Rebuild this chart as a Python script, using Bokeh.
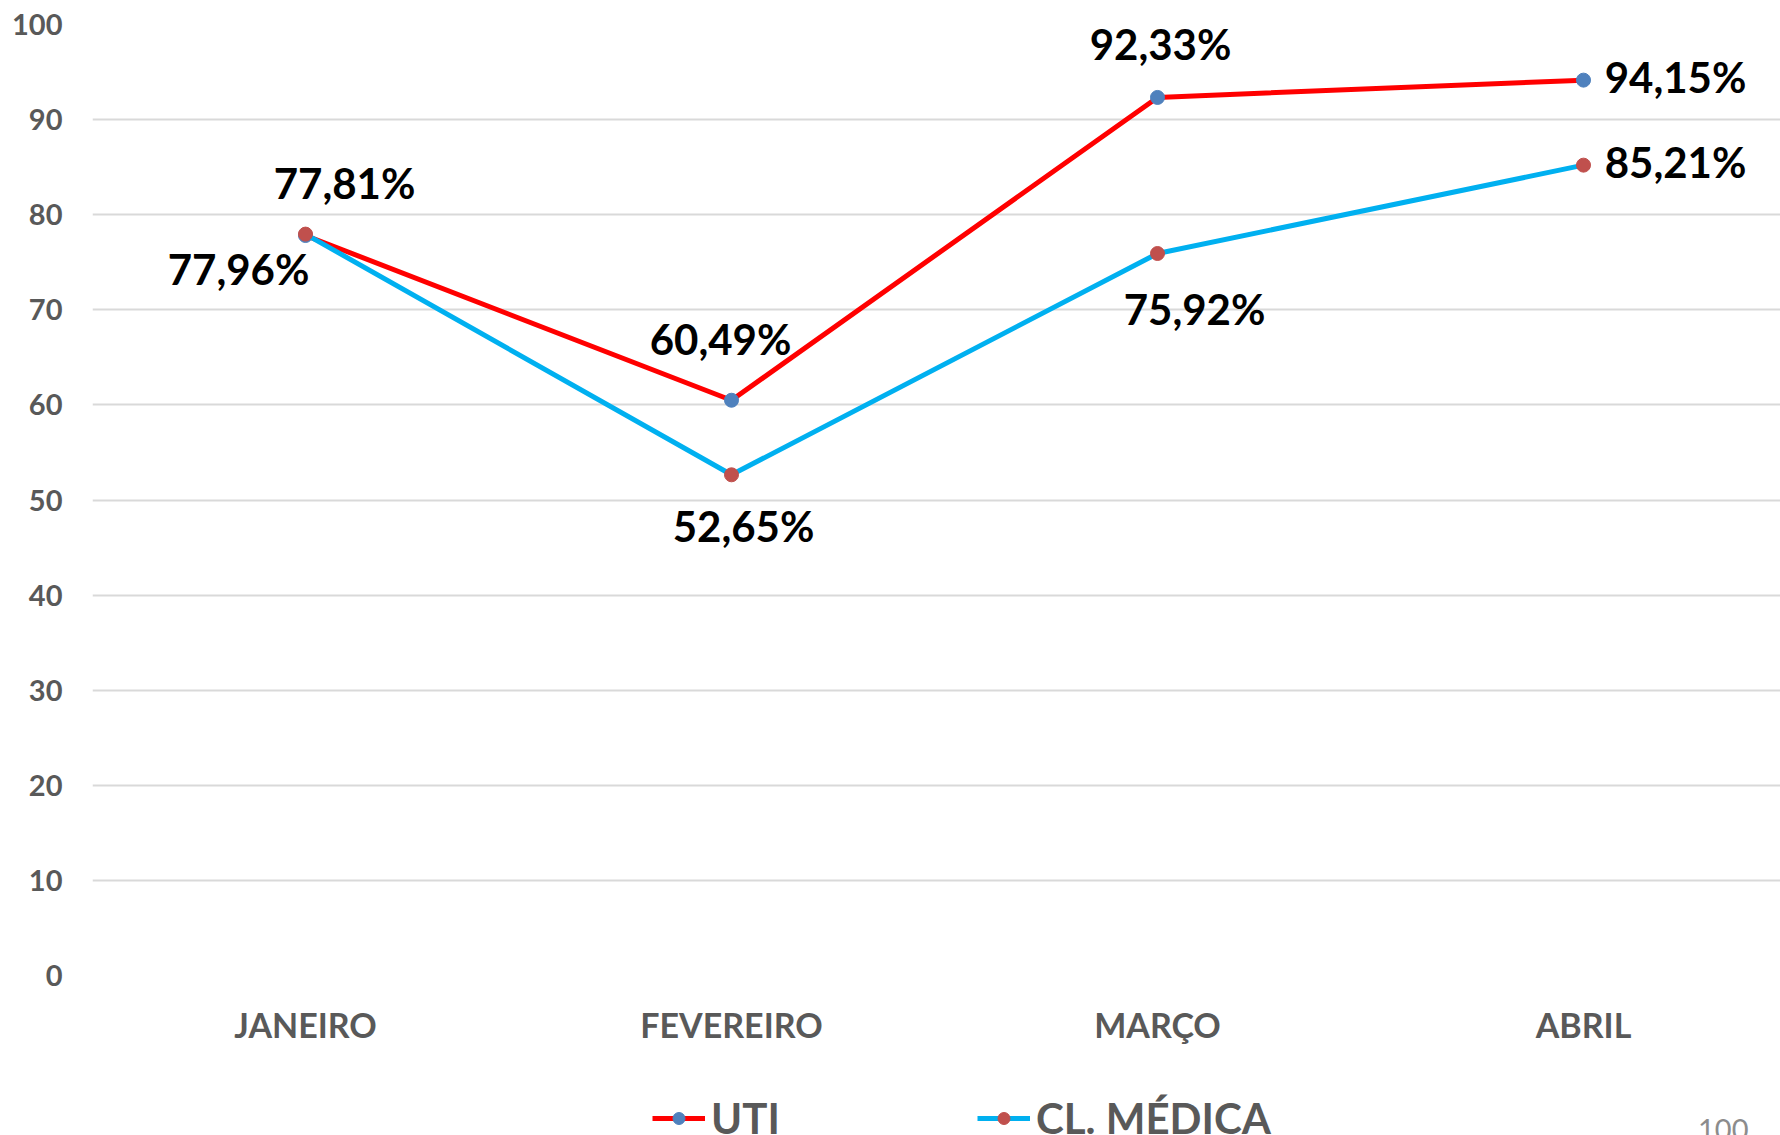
from bokeh.plotting import figure
from bokeh.layouts import column
from bokeh.models import ColumnDataSource, Legend, LegendItem, FixedTicker, Range1d, Label
from bokeh.core.properties import value
from bokeh.embed import file_html
from bokeh.resources import INLINE

# ---- data ----
months = ["JANEIRO", "FEVEREIRO", "MARÇO", "ABRIL"]
uti = [77.81, 60.49, 92.33, 94.15]
cl_medica = [77.96, 52.65, 75.92, 85.21]
y_ticks = [0, 10, 20, 30, 40, 50, 60, 70, 80, 90, 100]
series_names = ["UTI", "CL. MÉDICA"]
page_number = "100"

# ---- label placement (style, screen pixels) ----
uti_dx = [39, -11, 3, 92]
uti_dy = [-53, -61, -53, -3]
cl_dx = [-67, 12, 37, 92]
cl_dy = [35, 51, 55, -3]

FONT = "Lato"
UTI_LINE, UTI_MARK = "#FF0000", "#4F81BD"
CL_LINE, CL_MARK = "#00B0F0", "#C0504D"
xs = list(range(len(months)))


def fmt(v):
    return f"{v:.2f}%".replace(".", ",")


src_uti = ColumnDataSource(dict(x=xs, y=uti, t=[fmt(v) for v in uti], dx=uti_dx, dy=uti_dy))
src_cl = ColumnDataSource(dict(x=xs, y=cl_medica, t=[fmt(v) for v in cl_medica], dx=cl_dx, dy=cl_dy))

W = 1780
H_MAIN = 1055
H_LEG = 80
LEFT = 92
spacing_px = 426.0

p = figure(width=W, height=H_MAIN, output_backend="svg", toolbar_location=None,
           x_range=Range1d(-0.5, -0.5 + (W - LEFT) / spacing_px), y_range=Range1d(0, 100),
           min_border_left=LEFT, min_border_right=0, min_border_top=24, min_border_bottom=80)
p.outline_line_color = None
p.background_fill_color = "white"
p.border_fill_color = "white"

p.xgrid.grid_line_color = None
p.ygrid.grid_line_color = "#D9D9D9"
p.ygrid.grid_line_width = 2

p.yaxis.ticker = FixedTicker(ticks=y_ticks)
p.xaxis.ticker = FixedTicker(ticks=xs)
p.xaxis.major_label_overrides = {i: m for i, m in enumerate(months)}
for ax in (p.xaxis, p.yaxis):
    ax.axis_line_color = None
    ax.major_tick_line_color = None
    ax.minor_tick_line_color = None
    ax.major_label_text_font = FONT
    ax.major_label_text_font_style = "bold"
    ax.major_label_text_color = "#595959"
p.yaxis.major_label_text_font_size = "29px"
p.yaxis.major_label_standoff = 24
p.xaxis.major_label_text_font_size = "34px"
p.xaxis.major_label_standoff = 22

p.line("x", "y", source=src_uti, line_color=UTI_LINE, line_width=5)
p.scatter("x", "y", source=src_uti, marker="circle", size=14,
          fill_color=UTI_MARK, line_color=UTI_MARK)
p.line("x", "y", source=src_cl, line_color=CL_LINE, line_width=5)
p.scatter("x", "y", source=src_cl, marker="circle", size=14,
          fill_color=CL_MARK, line_color=CL_MARK)

for s in (src_uti, src_cl):
    p.text("x", "y", text="t", source=s, x_offset="dx", y_offset="dy",
           text_font=value(FONT), text_font_style="bold", text_font_size="42px",
           text_color="black", text_align="center", text_baseline="middle")

# ---- legend strip (separate small figure below the chart) ----
q = figure(width=W, height=H_LEG, output_backend="svg", toolbar_location=None,
           x_range=Range1d(0, W), y_range=Range1d(0, H_LEG),
           x_axis_type=None, y_axis_type=None,
           min_border_left=0, min_border_right=0, min_border_top=0, min_border_bottom=0)
q.outline_line_color = None
q.xgrid.visible = False
q.ygrid.visible = False
q.background_fill_color = "white"
q.border_fill_color = "white"

# legend proxies: same series, hidden in this strip (only their legend glyphs show)
lu = q.line("x", "y", source=src_uti, line_color=UTI_LINE, line_width=5, visible=False)
mu = q.scatter("x", "y", source=src_uti, marker="circle", size=14,
               fill_color=UTI_MARK, line_color=UTI_MARK, visible=False)
lc = q.line("x", "y", source=src_cl, line_color=CL_LINE, line_width=5, visible=False)
mc = q.scatter("x", "y", source=src_cl, marker="circle", size=14,
               fill_color=CL_MARK, line_color=CL_MARK, visible=False)

legend = Legend(items=[LegendItem(label=series_names[0], renderers=[lu, mu]),
                       LegendItem(label=series_names[1], renderers=[lc, mc])],
                orientation="horizontal", location=(560, -8),
                padding=0, margin=0, spacing=0, glyph_width=53, glyph_height=30,
                label_width=266, label_standoff=6,
                label_text_font=FONT, label_text_font_style="bold",
                label_text_font_size="42px", label_text_color="#595959",
                border_line_alpha=0, background_fill_alpha=0)
q.add_layout(legend, "center")

q.add_layout(Label(x=1693, y=17, text=page_number,
                   text_font=FONT, text_font_size="29px", text_color="#8C8C8C",
                   text_align="left", text_baseline="top"))

layout = column(p, q, spacing=0)
open("out.html", "w").write(file_html(layout, INLINE))
